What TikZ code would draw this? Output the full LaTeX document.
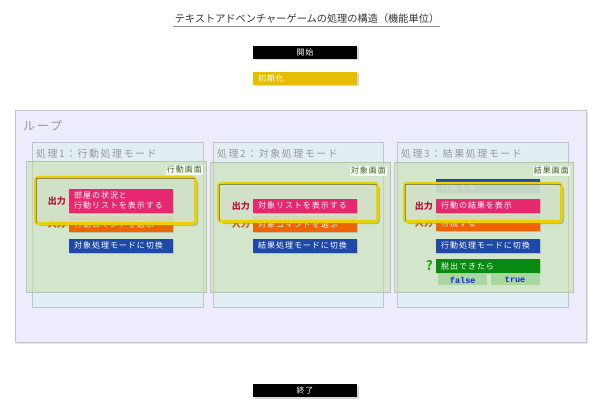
\documentclass[tikz,border=0pt]{standalone}
\usepackage{fontspec}
\setmainfont{Noto Sans CJK JP}
\newfontfamily\widejp[LetterSpace=12]{Noto Sans CJK JP}
\newfontfamily\widerjp[LetterSpace=15]{Noto Sans CJK JP}
\newfontfamily\codefont{Liberation Mono}
\usetikzlibrary{positioning,shadows}
\definecolor{showpink}{HTML}{E8286E}
\definecolor{inorange}{HTML}{F06400}
\definecolor{switchblue}{HTML}{2048A8}
\definecolor{condgreen}{HTML}{088A10}
\definecolor{choicegreen}{HTML}{A8D8A0}
\definecolor{choiceblue}{HTML}{2020E0}
\definecolor{inityellow}{HTML}{E6BE00}
\definecolor{loopbg}{HTML}{ECECFC}
\definecolor{loopline}{HTML}{C4C4CC}
\definecolor{modebg}{HTML}{E2EEF3}
\definecolor{modeline}{HTML}{B8B8C8}
\definecolor{screenbg}{HTML}{C5DEA3}
\definecolor{screenline}{HTML}{98B890}
\definecolor{screentext}{HTML}{3E6420}
\definecolor{frameyellow}{HTML}{EAD000}
\definecolor{framebg}{HTML}{D6E9CE}
\definecolor{frameshade}{HTML}{8A8A50}
\definecolor{labelgray}{HTML}{999999}
\definecolor{titlegray}{HTML}{333333}
\definecolor{outred}{HTML}{B4143C}
\definecolor{inbrown}{HTML}{C85A00}
\definecolor{qgreen}{HTML}{3CA028}
\begin{document}
\begin{tikzpicture}[x=1pt, y=-1pt,
    cmd/.style = {text=white, text width=94pt, inner xsep=5pt, inner ysep=0pt, minimum height=14pt, align=left, font=\widejp\fontsize{8}{10}\selectfont, drop shadow={shadow xshift=1.2pt, shadow yshift=-1.2pt, opacity=0.35}},
    showbox/.style = {cmd, fill=showpink},
    inbox/.style = {cmd, fill=inorange, minimum height=16pt},
    switchbox/.style = {cmd, fill=switchblue},
    condbox/.style = {cmd, fill=condgreen},
    choicebox/.style = {fill=choicegreen, text=choiceblue, minimum width=49pt, minimum height=11pt, inner sep=0pt, font=\codefont\bfseries\fontsize{8.5}{10}\selectfont},
    termbox/.style = {fill=black, text=white, minimum width=104pt, minimum height=13pt, inner sep=0pt, font=\widejp\fontsize{8}{10}\selectfont, drop shadow={shadow xshift=1.5pt, shadow yshift=-1.5pt, opacity=0.3}},
    loopbox/.style = {draw=loopline, fill=loopbg, line width=1.2pt, anchor=north west, drop shadow={shadow xshift=1pt, shadow yshift=-1pt, opacity=0.2}},
    modebox/.style = {draw=modeline, fill=modebg, line width=1.2pt, draw opacity=0.8, anchor=north west},
    screenbox/.style = {draw=screenline, fill=screenbg, line width=1pt, fill opacity=0.5, draw opacity=0.6, anchor=north west},
    framebox/.style = {draw=frameyellow, fill=framebg, line width=3pt, rounded corners=3pt, fill opacity=0.86, anchor=north west, drop shadow={shadow xshift=2.5pt, shadow yshift=-2.5pt, opacity=0.45}},
    frameshade/.style = {draw=frameshade, line width=1pt},
    modelabel/.style = {anchor=north west, inner sep=0pt, text=labelgray, font=\widerjp\fontsize{10}{12}\selectfont},
    screenlabel/.style = {anchor=north east, fill=white, fill opacity=0.8, text opacity=1, inner sep=1pt, text=screentext, font=\widejp\fontsize{8}{9}\selectfont},
    outlabel/.style = {inner sep=0pt, text=outred, font=\bfseries\fontsize{9}{10}\selectfont},
    inlabel/.style = {inner sep=0pt, text=inbrown, font=\bfseries\fontsize{9}{10}\selectfont}]
    \useasboundingbox (0,0) rectangle (600,417);
    \node[text=titlegray, inner xsep=0pt, inner ysep=2.5pt, font=\fontsize{10.2}{12}\selectfont] (title) at (307,19) {テキストアドベンチャーゲームの処理の構造（機能単位）};
    \draw[black!45, line width=0.8pt] ([xshift=-2pt]title.south west) -- ([xshift=1pt]title.south east);
    \node[termbox] (start) at (305,52.5) {開始};
    \node[termbox, fill=inityellow, text width=94pt, inner xsep=5pt, align=left] (init) at (305,78.5) {初期化};
    \node[termbox] (stop) at (305,390.5) {終了};

    \node[loopbox, minimum width=571pt, minimum height=232pt] (loop) at (15,110) {};
    \node[modelabel, font=\widerjp\fontsize{12}{14}\selectfont] (looplabel) at ([shift={(8pt,-10pt)}]loop.north west) {ループ};

    \node[modebox, minimum width=171pt, minimum height=165pt] (mode1) at (32,142) {};
    \node[modebox, minimum width=170pt, minimum height=165pt] (mode2) at (213,142) {};
    \node[modebox, minimum width=171pt, minimum height=165pt] (mode3) at (397,142) {};
    \node[modelabel] (lm1) at ([shift={(4pt,-7pt)}]mode1.north west) {処理1：行動処理モード};
    \node[modelabel] (lm2) at ([shift={(4pt,-7pt)}]mode2.north west) {処理2：対象処理モード};
    \node[modelabel] (lm3) at ([shift={(4pt,-7pt)}]mode3.north west) {処理3：結果処理モード};

    \node[screenbox, minimum width=180pt, minimum height=131pt] (scr1) at (26,161) {};
    \node[screenbox, minimum width=180pt, minimum height=130pt] (scr2) at (210,162) {};
    \node[screenbox, minimum width=179pt, minimum height=130pt] (scr3) at (394,162) {};
    \node[screenlabel] (ls1) at ([shift={(-4pt,-4pt)}]scr1.north east) {行動画面};
    \node[screenlabel] (ls2) at ([shift={(-4pt,-4pt)}]scr2.north east) {対象画面};
    \node[screenlabel] (ls3) at ([shift={(-4pt,-4pt)}]scr3.north east) {結果画面};

    \node[inbox, anchor=north west] (in1) at (69,216) {行動コマンドを選ぶ};
    \node[inbox, anchor=north west] (in2) at (253,216) {対象コマンドを選ぶ};
    \node[inbox, anchor=north west] (in3) at (436,215) {待機する};
    \node[switchbox, anchor=north west] (act3) at (436,179) {行動する};
    \node[inlabel, left=3pt of in1] (il1) {入力};
    \node[inlabel, left=3pt of in2] (il2) {入力};
    \node[inlabel, left=3pt of in3] (il3) {入力};

    \node[framebox, minimum width=160pt, minimum height=46pt] (f1) at (34,176) {};
    \node[framebox, minimum width=159pt, minimum height=38pt] (f2) at (217,182) {};
    \node[framebox, minimum width=157pt, minimum height=38pt] (f3) at (403,182) {};
    \draw[frameshade] ([shift={(2.5pt,2.5pt)}]f1.south west) |- ([shift={(-2.5pt,-2.5pt)}]f1.north east);
    \draw[frameshade] ([shift={(2.5pt,2.5pt)}]f2.south west) |- ([shift={(-2.5pt,-2.5pt)}]f2.north east);
    \draw[frameshade] ([shift={(2.5pt,2.5pt)}]f3.south west) |- ([shift={(-2.5pt,-2.5pt)}]f3.north east);

    \node[showbox, minimum height=24pt, above=3pt of in1] (show1) {部屋の状況と\\行動リストを表示する};
    \node[showbox, above=3pt of in2] (show2) {対象リストを表示する};
    \node[showbox, above=2pt of in3] (show3) {行動の結果を表示};
    \node[outlabel, left=3pt of show1] (ol1) {出力};
    \node[outlabel, left=3pt of show2] (ol2) {出力};
    \node[outlabel, left=3pt of show3] (ol3) {出力};

    \node[switchbox, below=6pt of in1] (sw1) {対象処理モードに切換};
    \node[switchbox, below=6pt of in2] (sw2) {結果処理モードに切換};
    \node[switchbox, below=7pt of in3] (sw3) {行動処理モードに切換};
    \node[condbox, below=6pt of sw3] (cond3) {脱出できたら};
    \node[left=3pt of cond3, inner sep=0pt, text=qgreen, font=\bfseries\fontsize{13}{14}\selectfont] (q3) {?};
    \node[choicebox, anchor=north west] (no3) at ([shift={(2pt,-1pt)}]cond3.south west) {false};
    \node[choicebox, right=3pt of no3] (yes3) {true};
\end{tikzpicture}
\end{document}
